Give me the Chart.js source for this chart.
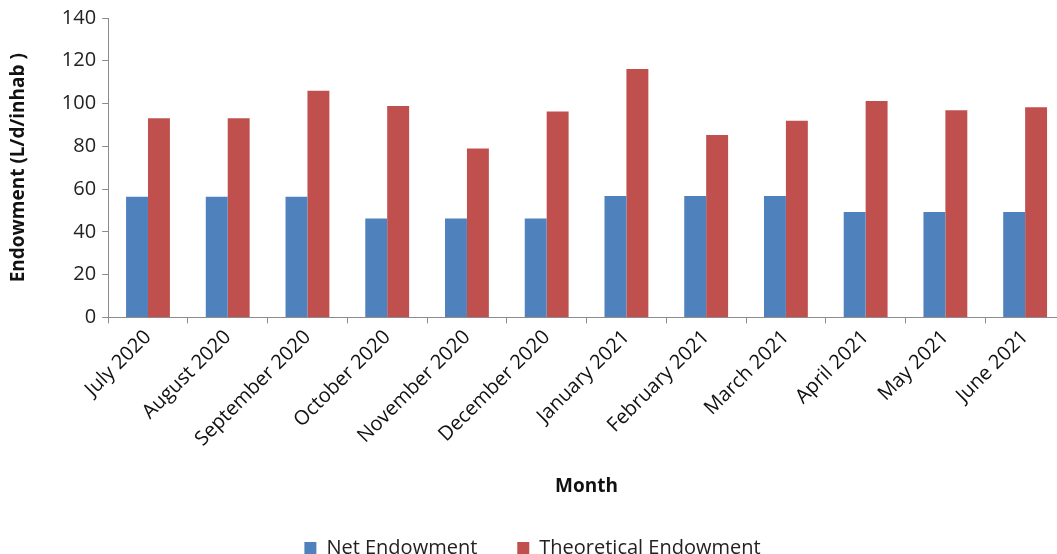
<!DOCTYPE html>
<html>
<head>
<meta charset="utf-8">
<script src="https://cdn.jsdelivr.net/npm/chart.js@4"></script>
<style>
	html, body { margin: 0; padding: 0; background: #fff; overflow: hidden; }
	#wrap { position: absolute; left: 0; top: 0; width: 1075px; height: 568px; }
</style>
</head>
<body>
<div id="wrap"><canvas id="endowment-chart"></canvas></div>
<script>
	let months = ["July 2020", "August 2020", "September 2020", "October 2020", "November 2020", "December 2020",
		"January 2021", "February 2021", "March 2021", "April 2021", "May 2021", "June 2021"];
	let netEndowment = [56.4, 56.4, 56.4, 46.2, 46.2, 46.2, 56.8, 56.8, 56.8, 49.3, 49.3, 49.3];
	let theoreticalEndowment = [93.1, 93.1, 106.0, 98.8, 79.0, 96.3, 116.1, 85.3, 92.0, 101.2, 96.9, 98.3];
	let yTicks = [0, 20, 40, 60, 80, 100, 120, 140];

	const font = "'Open Sans', 'DejaVu Sans', sans-serif";
	const axisGrey = "#8c8c8c";

	let ctx = document.getElementById("endowment-chart").getContext("2d");

	new Chart(ctx, {
		type: "bar",
		data: {
			labels: months,
			datasets: [{
				label: "Net Endowment",
				backgroundColor: "#4F81BD",
				data: netEndowment
			},{
				label: "Theoretical Endowment",
				backgroundColor: "#C0504D",
				data: theoreticalEndowment
			}]
		},
		options: {
			responsive: true,
			maintainAspectRatio: false,
			animation: false,
			layout: { padding: { left: 0, top: 15, right: 10, bottom: 0 } },
			datasets: {
				bar: { barPercentage: 1, categoryPercentage: 0.55 }
			},
			plugins: {
				tooltip: { enabled: false },
				legend: {
					position: "bottom",
					labels: {
						font: { family: font, size: 20 },
						color: "#222",
						boxWidth: 12,
						boxHeight: 12,
						padding: 40
					}
				}
			},
			scales: {
				x: {
					grid: { offset: true, drawOnChartArea: false, tickLength: 6, color: axisGrey },
					border: { color: axisGrey },
					ticks: {
						autoSkip: false,
						maxRotation: 45,
						minRotation: 45,
						padding: 2,
						color: "#111",
						font: { family: font, size: 20 }
					},
					title: {
						display: true,
						text: "Month",
						color: "#111",
						font: { family: font, size: 19, weight: "bold" },
						padding: { top: 22, bottom: 0 }
					}
				},
				y: {
					min: 0,
					max: 140,
					afterBuildTicks: function(axis){
						axis.ticks = yTicks.map(v => ({ value: v }));
					},
					grid: { drawOnChartArea: false, tickLength: 6, color: axisGrey },
					border: { color: axisGrey },
					ticks: {
						padding: 6,
						color: "#222",
						font: { family: font, size: 20 }
					},
					title: {
						display: true,
						text: "Endowment (L/d/inhab )",
						color: "#111",
						font: { family: font, size: 19, weight: "bold" },
						padding: { top: 7, bottom: 26 }
					}
				}
			}
		}
	});
</script>
</body>
</html>
